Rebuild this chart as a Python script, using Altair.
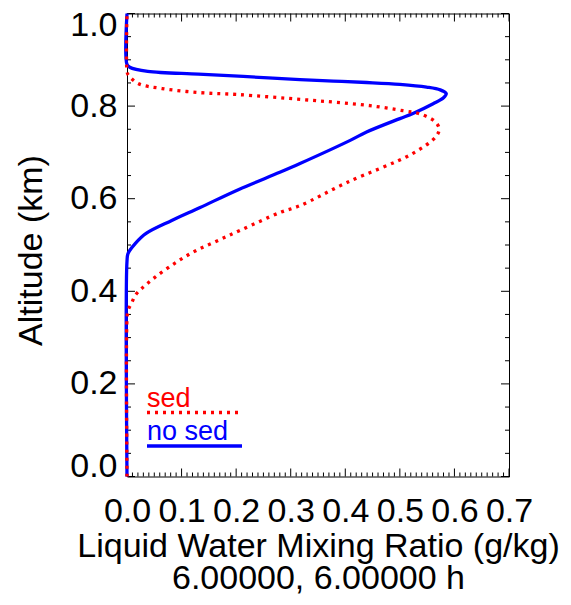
import altair as alt
import pandas as pd

# liquid water profile with no sedimentation (blue, solid)
nosed_alt = [0.0, 0.465, 0.482, 0.503, 0.525, 0.553, 0.581, 0.62, 0.657, 0.676,
             0.726, 0.744, 0.773, 0.784, 0.805, 0.818, 0.827, 0.835, 0.841,
             0.847, 0.851, 0.854, 0.857, 0.864, 0.869, 0.875, 0.884, 0.89, 1.0]
nosed_lwc = [0.0, 0.0, 0.002, 0.015, 0.035, 0.082, 0.134, 0.205, 0.280, 0.317,
             0.409, 0.439, 0.500, 0.524, 0.561, 0.580, 0.585, 0.574, 0.549,
             0.500, 0.439, 0.378, 0.317, 0.213, 0.131, 0.038, 0.005, 0.0, 0.0]

# liquid water profile with sedimentation (red, dotted)
sed_alt = [0.0, 0.34, 0.359, 0.376, 0.391, 0.406, 0.430, 0.461, 0.487, 0.510,
           0.533, 0.570, 0.585, 0.635, 0.698, 0.734, 0.751, 0.767, 0.783,
           0.790, 0.801, 0.808, 0.814, 0.825, 0.829, 0.838, 0.849, 0.868,
           0.875, 1.0]
sed_lwc = [0.0, 0.0, 0.002, 0.009, 0.015, 0.027, 0.051, 0.088, 0.125, 0.167,
           0.210, 0.280, 0.317, 0.403, 0.524, 0.566, 0.572, 0.564, 0.537,
           0.506, 0.445, 0.384, 0.323, 0.203, 0.134, 0.064, 0.020, 0.002,
           0.0, 0.0]

legend_labels = ["sed", "no sed"]

x_major = [0.0, 0.1, 0.2, 0.3, 0.4, 0.5, 0.6, 0.7]
x_minor = [i / 100 for i in range(71) if i % 10]
y_major = [0.0, 0.2, 0.4, 0.6, 0.8, 1.0]
y_minor = [0.05, 0.1, 0.15, 0.25, 0.3, 0.35, 0.45, 0.5, 0.55, 0.65, 0.7,
           0.75, 0.85, 0.9, 0.95]

W, H = 382, 463
FONT = "Liberation Sans"

x_enc = alt.X(
    "lwc:Q",
    scale=alt.Scale(domain=[0, 0.7], nice=False, zero=False),
    axis=alt.Axis(
        values=x_major, format=".1f", labelFontSize=34, labelPadding=18,
        labelColor="black", labelFlush=False, labelOverlap=False,
        ticks=False, tickSize=0, domain=False, grid=False,
        title=["Liquid Water Mixing Ratio (g/kg)", "6.00000, 6.00000 h"],
        titleFontSize=34, titleFontWeight="normal", titleColor="black",
        titleX=W / 2, titleY=80, titleBaseline="alphabetic",
        titleLineHeight=32,
    ),
)
y_enc = alt.Y(
    "alt:Q",
    scale=alt.Scale(domain=[0, 1], nice=False, zero=False),
    axis=alt.Axis(
        values=y_major, format=".1f", labelFontSize=34, labelPadding=10,
        labelColor="black", labelFlush=False, labelOverlap=False,
        labelOffset=alt.expr("datum.value == 1 ? 12 : datum.value == 0 ? -10 : 0"),
        ticks=False, tickSize=0, domain=False, grid=False,
        title="Altitude (km)", titleFontSize=34, titleFontWeight="normal",
        titleColor="black", titleX=-86, titleY=H / 2 + 5, titleAngle=-90,
        titleBaseline="alphabetic", titleAlign="center",
    ),
)

nosed_df = pd.DataFrame({"alt": nosed_alt, "lwc": nosed_lwc,
                         "k": range(len(nosed_alt))})
sed_df = pd.DataFrame({"alt": sed_alt, "lwc": sed_lwc,
                       "k": range(len(sed_alt))})

nosed_line = alt.Chart(nosed_df).mark_line(
    color="#0000ff", strokeWidth=3.3, interpolate="catmull-rom"
).encode(x=x_enc, y=y_enc, order="k:Q")

sed_line = alt.Chart(sed_df).mark_line(
    color="#ff0000", strokeWidth=3.3, strokeDash=[3, 5], strokeCap="butt",
    interpolate="catmull-rom"
).encode(x=x_enc, y=y_enc, order="k:Q")


# inward ticks on all four sides, IDL style
def yticks(vals, length):
    df = pd.DataFrame({"alt": vals})
    left = alt.Chart(df).mark_rule(color="black", strokeWidth=1).encode(
        y=y_enc, x=alt.value(0), x2=alt.value(length))
    right = alt.Chart(df).mark_rule(color="black", strokeWidth=1).encode(
        y=y_enc, x=alt.value(W), x2=alt.value(W - length))
    return [left, right]


def xticks(vals, length):
    df = pd.DataFrame({"lwc": vals})
    bottom = alt.Chart(df).mark_rule(color="black", strokeWidth=1).encode(
        x=x_enc, y=alt.value(H), y2=alt.value(H - length))
    top = alt.Chart(df).mark_rule(color="black", strokeWidth=1).encode(
        x=x_enc, y=alt.value(0), y2=alt.value(length))
    return [bottom, top]


ticks = yticks(y_major, 8) + yticks(y_minor, 4) + xticks(x_major, 8) + xticks(x_minor, 4)

# legend drawn inside the plot: label above a line sample
leg = pd.DataFrame({"label": legend_labels})
sed_text = alt.Chart(leg.iloc[[0]]).mark_text(
    align="left", baseline="alphabetic", fontSize=27, color="#ff0000"
).encode(text="label:N", x=alt.value(20), y=alt.value(393.5))
sed_key = alt.Chart(leg.iloc[[0]]).mark_rule(
    color="#ff0000", strokeWidth=3.3, strokeDash=[3, 5], strokeCap="butt"
).encode(x=alt.value(20), x2=alt.value(114), y=alt.value(399))
nosed_text = alt.Chart(leg.iloc[[1]]).mark_text(
    align="left", baseline="alphabetic", fontSize=27, color="#0000ff"
).encode(text="label:N", x=alt.value(20), y=alt.value(426.5))
nosed_key = alt.Chart(leg.iloc[[1]]).mark_rule(
    color="#0000ff", strokeWidth=3.3
).encode(x=alt.value(20), x2=alt.value(115), y=alt.value(432.5))

chart = (
    alt.layer(*ticks, nosed_line, sed_line, sed_text, sed_key, nosed_text, nosed_key)
    .properties(
        width=W, height=H, autosize="none",
        padding={"left": 119, "top": 5.5, "right": 54, "bottom": 120},
    )
    .configure(font=FONT)
    .configure_view(stroke="black", strokeWidth=1)
)

chart.save("out.html", embed_options={"renderer": "svg", "actions": False})
